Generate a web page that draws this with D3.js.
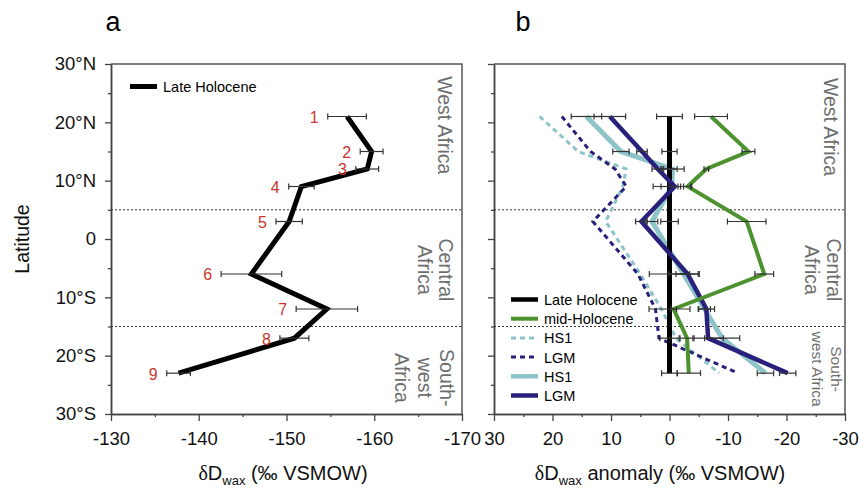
<!DOCTYPE html>
<html>
<head>
<meta charset="utf-8">
<script src="https://cdnjs.cloudflare.com/ajax/libs/d3/7.8.5/d3.min.js"></script>
<style>
  body { margin: 0; background: #fff; }
  svg text { font-family: "Liberation Sans", Arial, sans-serif; }
</style>
</head>
<body>
<div id="chart"></div>
<script>
// site numbers and latitudes (deg, N positive)
var siteNums = ["1", "2", "3", "4", "5", "6", "7", "8", "9"];
var latitudes = [21, 15, 12, 9, 3, -6, -12, -17, -23];

// panel a: late Holocene dDwax and 1 sigma
var lhD = [-156.9, -159.7, -159.2, -151.7, -150.3, -146.0, -154.6, -150.9, -137.7];
var lhErr = [2.2, 1.3, 1.3, 1.45, 1.5, 3.45, 3.5, 1.65, 1.35];

// panel b: anomalies relative to late Holocene
var mhAnom = [-7.1, -13.5, -6.3, -3.1, -13.2, -16.2, -0.7, -3.0, -3.3];
var mhErr = [2.8, 1.1, 0.4, 0.7, 3.3, 1.6, 0.5, 1.2, 2.0];
var hs1Anom = [14.2, 8.3, -0.5, -0.4, 3.0, -2.4, -6.0, -9.0, -16.4];
var hs1Err = [2.6, 1.4, 2.0, 3.2, 1.0, 2.5, 1.0, 3.0, 1.4];
var lgmAnom = [10.2, 4.7, 2.0, -0.9, 4.8, -3.1, -6.3, -6.6, -20.2];
var lgmErr = [2.7, 0.9, 1.0, 1.0, 1.0, 2.0, 1.4, 2.6, 1.4];
var hs1DashAnom = [22.2, 15.6, 7.4, 8.0, 10.9, 5.0, 1.4, -1.1, -8.5];
var lgmDashAnom = [18.4, 13.5, 9.3, 7.4, 13.1, 5.4, 2.4, 1.8, -11.7];

// axes
var latTicks = [30, 20, 10, 0, -10, -20, -30];
var latTickLabels = ["30°N", "20°N", "10°N", "0", "10°S", "20°S", "30°S"];
var latMinor = [25, 15, 5, -5, -15, -25];
var dDTicks = [-130, -140, -150, -160, -170];
var dDMinor = [-135, -145, -155, -165];
var anomTicks = [30, 20, 10, 0, -10, -20, -30];
var anomMinor = [25, 15, 5, -5, -15, -25];
var regionBounds = [5, -15];

var legendNames = ["Late Holocene", "mid-Holocene", "HS1", "LGM", "HS1", "LGM"];
var regionsA = [["West Africa"], ["Central", "Africa"], ["South-", "west", "Africa"]];
var regionsB = [["West Africa"], ["Central", "Africa"], ["South-", "west Africa"]];

var colors = {
  lh: "#000000",
  mh: "#4c922f",
  hs1: "#8cc4c8",
  lgm: "#28207a",
  err: "#333333",
  label: "#c8372d",
  region: "#6e6e6e"
};

var width = 859, height = 488;
var plotTop = 64, plotBottom = 414;

var svg = d3.select("#chart").append("svg")
  .attr("width", width)
  .attr("height", height);

var yScale = d3.scaleLinear().domain([30, -30]).range([plotTop, plotBottom]);
var xA = d3.scaleLinear().domain([-130, -170]).range([111, 462]);
var xB = d3.scaleLinear().domain([30, -30]).range([494, 845]);

function rows(vals, errs) {
  return vals.map(function(v, i) {
    return { v: v, e: errs ? errs[i] : 0, lat: latitudes[i], n: siteNums[i] };
  });
}

function drawFrame(x, showLabels) {
  var g = svg.append("g");
  var x0 = x.range()[0], x1 = x.range()[1];

  // top / right border
  g.append("path")
    .attr("d", "M" + x0 + "," + plotTop + "H" + x1 + "V" + plotBottom)
    .attr("fill", "none")
    .attr("stroke", "#555")
    .attr("stroke-width", 1.5);

  var yAxis = d3.axisLeft(yScale).tickValues(latTicks).tickSize(6).tickSizeOuter(0).tickPadding(9)
    .tickFormat(function(d, i) { return showLabels ? latTickLabels[i] : ""; });
  var yMinor = d3.axisLeft(yScale).tickValues(latMinor).tickSize(3).tickSizeOuter(0).tickFormat("");

  g.append("g").attr("transform", "translate(" + x0 + ",0)").call(yAxis);
  g.append("g").attr("transform", "translate(" + x0 + ",0)").call(yMinor);

  return g;
}

function styleAxes() {
  svg.selectAll(".domain").attr("stroke", "#444").attr("stroke-width", 1.5);
  svg.selectAll(".tick line").attr("stroke", "#444").attr("stroke-width", 1.3);
  svg.selectAll(".tick text").style("font-size", "18.5px").attr("fill", "#111");
}

function drawXAxis(x, ticks, minor) {
  var xAxis = d3.axisBottom(x).tickValues(ticks).tickSize(7).tickSizeOuter(0).tickPadding(11)
    .tickFormat(function(d) { return String(d); });
  var xMinor = d3.axisBottom(x).tickValues(minor).tickSize(3).tickSizeOuter(0).tickFormat("");
  svg.append("g").attr("transform", "translate(0," + plotBottom + ")").call(xAxis);
  svg.append("g").attr("transform", "translate(0," + plotBottom + ")").call(xMinor);
}

function drawBounds(x) {
  svg.append("g").selectAll("line")
    .data(regionBounds)
    .enter().append("line")
    .attr("x1", x.range()[0])
    .attr("x2", x.range()[1])
    .attr("y1", function(d) { return yScale(d); })
    .attr("y2", function(d) { return yScale(d); })
    .attr("stroke", "#333")
    .attr("stroke-width", 1)
    .attr("stroke-dasharray", "2,2");
}

function drawErrors(x, data) {
  var g = svg.append("g");
  var bar = g.selectAll("g").data(data).enter().append("g")
    .attr("stroke", colors.err)
    .attr("stroke-width", 1.2);
  bar.append("line")
    .attr("x1", function(d) { return x(d.v - d.e); })
    .attr("x2", function(d) { return x(d.v + d.e); })
    .attr("y1", function(d) { return yScale(d.lat); })
    .attr("y2", function(d) { return yScale(d.lat); });
  [-1, 1].forEach(function(s) {
    bar.append("line")
      .attr("x1", function(d) { return x(d.v + s * d.e); })
      .attr("x2", function(d) { return x(d.v + s * d.e); })
      .attr("y1", function(d) { return yScale(d.lat) - 3; })
      .attr("y2", function(d) { return yScale(d.lat) + 3; });
  });
}

function drawLine(x, data, color, w, dash) {
  var line = d3.line()
    .x(function(d) { return x(d.v); })
    .y(function(d) { return yScale(d.lat); });
  svg.append("path")
    .datum(data)
    .attr("d", line)
    .attr("fill", "none")
    .attr("stroke", color)
    .attr("stroke-width", w)
    .attr("stroke-linejoin", "miter")
    .attr("stroke-dasharray", dash || null);
}

function drawRegions(regions, baselines, centers, sizes, lineGaps) {
  regions.forEach(function(lines, i) {
    var t = svg.append("text")
      .attr("transform", "translate(" + baselines[i] + "," + centers[i] + ") rotate(90)")
      .attr("text-anchor", "middle")
      .attr("fill", colors.region)
      .style("font-size", sizes[i] + "px");
    lines.forEach(function(s, j) {
      t.append("tspan").attr("x", 0).attr("y", j * lineGaps[i]).text(s);
    });
  });
}

function drawXLabel(cx, tail) {
  var t = svg.append("text")
    .attr("x", cx)
    .attr("y", 480)
    .attr("text-anchor", "middle")
    .attr("fill", "#111")
    .style("font-size", "20px");
  t.append("tspan").style("font-family", "'Liberation Serif', serif").text("δ");
  t.append("tspan").text("D");
  t.append("tspan").attr("dy", 4.5).style("font-size", "13px").text("wax");
  t.append("tspan").attr("dy", -4.5).text(tail);
}

// ---------- panel a ----------
drawFrame(xA, true);
drawXAxis(xA, dDTicks, dDMinor);
drawBounds(xA);

var dataA = rows(lhD, lhErr);
drawLine(xA, dataA, colors.lh, 5);
drawErrors(xA, dataA);

svg.append("g").selectAll("text")
  .data(dataA)
  .enter().append("text")
  .attr("x", function(d) { return xA(d.v + d.e) - 9; })
  .attr("y", function(d) { return yScale(d.lat); })
  .attr("dy", "0.4em")
  .attr("text-anchor", "end")
  .attr("fill", colors.label)
  .style("font-size", "16px")
  .text(function(d) { return d.n; });

svg.append("line")
  .attr("x1", 130).attr("x2", 157).attr("y1", 86.5).attr("y2", 86.5)
  .attr("stroke", colors.lh).attr("stroke-width", 5);
svg.append("text")
  .attr("x", 163).attr("y", 91.5)
  .style("font-size", "14.5px")
  .text(legendNames[0]);

drawRegions(regionsA, [438, 439, 440], [yScale(19.5), yScale(-5.3), yScale(-23.8)], [19.5, 19.5, 19.5], [0, 21, 22.5]);

// ---------- panel b ----------
drawFrame(xB, false);
drawXAxis(xB, anomTicks, anomMinor);
drawBounds(xB);

var zeros = latitudes.map(function() { return 0; });
drawLine(xB, rows(hs1DashAnom), colors.hs1, 3, "5,4");
drawLine(xB, rows(lgmDashAnom), colors.lgm, 3, "5,4");
drawLine(xB, rows(hs1Anom, hs1Err), colors.hs1, 5);
drawLine(xB, rows(zeros, lhErr), colors.lh, 5);
drawLine(xB, rows(lgmAnom, lgmErr), colors.lgm, 4.5);
drawLine(xB, rows(mhAnom, mhErr), colors.mh, 4);

drawErrors(xB, rows(zeros, lhErr));
drawErrors(xB, rows(hs1Anom, hs1Err));
drawErrors(xB, rows(lgmAnom, lgmErr));
drawErrors(xB, rows(mhAnom, mhErr));

var legendStyles = [
  { color: colors.lh, w: 4.5, dash: null },
  { color: colors.mh, w: 4, dash: null },
  { color: colors.hs1, w: 3, dash: "5,4" },
  { color: colors.lgm, w: 3, dash: "5,4" },
  { color: colors.hs1, w: 4.5, dash: null },
  { color: colors.lgm, w: 4.5, dash: null }
];
var legend = svg.append("g").attr("transform", "translate(511,299.5)");
var item = legend.selectAll("g")
  .data(legendNames)
  .enter().append("g")
  .attr("transform", function(d, i) { return "translate(0," + (i * 19.2) + ")"; });
item.append("line")
  .attr("x1", 0).attr("x2", 27)
  .attr("stroke", function(d, i) { return legendStyles[i].color; })
  .attr("stroke-width", function(d, i) { return legendStyles[i].w; })
  .attr("stroke-dasharray", function(d, i) { return legendStyles[i].dash; });
item.append("text")
  .attr("x", 33).attr("y", 5.5)
  .style("font-size", "14.5px")
  .text(function(d) { return d; });

drawRegions(regionsB, [823.5, 827, 831], [yScale(19.2), yScale(-5.3), yScale(-22.3)], [19.5, 19.5, 15.5], [0, 22, 19]);

styleAxes();

// axis titles, panel letters
drawXLabel(283, " (‰ VSMOW)");
drawXLabel(660, " anomaly (‰ VSMOW)");

svg.append("text")
  .attr("transform", "translate(29,239) rotate(-90)")
  .attr("text-anchor", "middle")
  .attr("fill", "#111")
  .style("font-size", "19.5px")
  .text("Latitude");

svg.append("text").attr("x", 113).attr("y", 31).attr("text-anchor", "middle")
  .style("font-size", "27px").text("a");
svg.append("text").attr("x", 523).attr("y", 31).attr("text-anchor", "middle")
  .style("font-size", "27px").text("b");
</script>
</body>
</html>
